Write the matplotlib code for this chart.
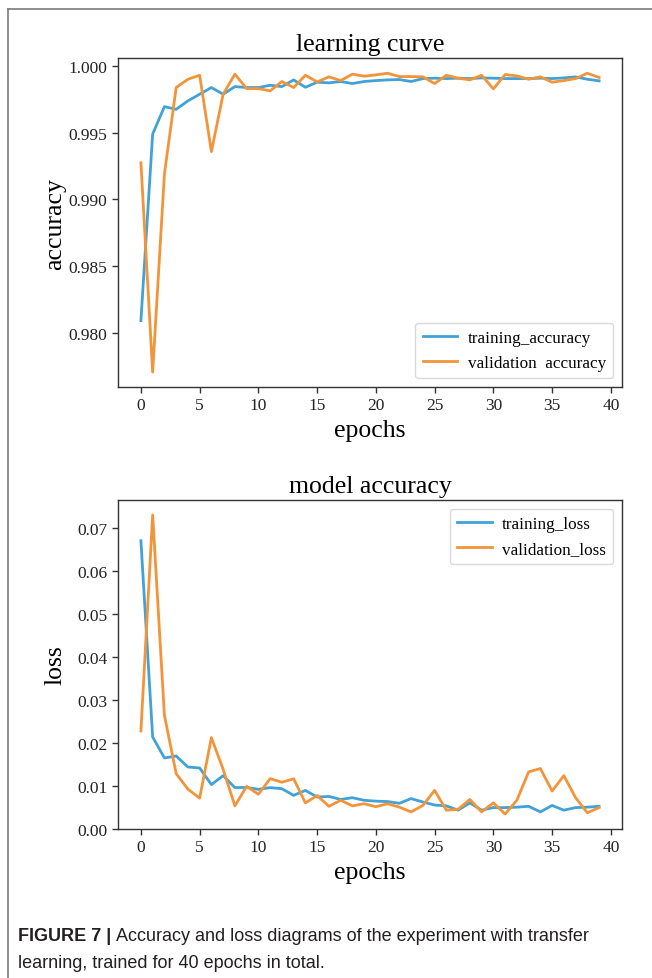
import matplotlib
matplotlib.use("Agg")
import matplotlib.pyplot as plt
from matplotlib.lines import Line2D
from matplotlib.transforms import offset_copy

epochs = list(range(40))

train_acc = [0.98093, 0.99490, 0.99695, 0.99675, 0.99738, 0.99788, 0.99838, 0.99788,
             0.99845, 0.99838, 0.99838, 0.99855, 0.99845, 0.99895, 0.99840, 0.99878,
             0.99873, 0.99883, 0.99868, 0.99883, 0.99890, 0.99895, 0.99898, 0.99883,
             0.99905, 0.99908, 0.99905, 0.99908, 0.99905, 0.99910, 0.99908, 0.99905,
             0.99905, 0.99905, 0.99908, 0.99905, 0.99910, 0.99918, 0.99900, 0.99888]
val_acc = [0.99275, 0.97708, 0.99190, 0.99838, 0.99900, 0.99930, 0.99358, 0.99788,
           0.99938, 0.99830, 0.99830, 0.99813, 0.99883, 0.99838, 0.99930, 0.99880,
           0.99918, 0.99890, 0.99938, 0.99923, 0.99933, 0.99945, 0.99920, 0.99920,
           0.99918, 0.99868, 0.99930, 0.99908, 0.99895, 0.99930, 0.99828, 0.99935,
           0.99925, 0.99900, 0.99918, 0.99878, 0.99890, 0.99905, 0.99945, 0.99913]

train_loss = [0.0670, 0.02134, 0.01645, 0.0169, 0.01435, 0.01412, 0.01025, 0.01234,
              0.00955, 0.0096, 0.00915, 0.00955, 0.0093, 0.00775, 0.0089, 0.00736,
              0.0075, 0.0068, 0.0072, 0.0066, 0.0064, 0.0063, 0.0059, 0.0070,
              0.0062, 0.0055, 0.0053, 0.0043, 0.0060, 0.0043, 0.0049, 0.0049,
              0.0050, 0.0052, 0.0039, 0.0054, 0.0043, 0.0049, 0.0050, 0.0052]
val_loss = [0.02274, 0.0730, 0.0264, 0.0128, 0.0092, 0.0071, 0.0212, 0.0138,
            0.0053, 0.00985, 0.0080, 0.01164, 0.0108, 0.0116, 0.0060, 0.0077,
            0.0052, 0.0066, 0.0053, 0.0058, 0.0051, 0.0058, 0.0050, 0.0039,
            0.0054, 0.0089, 0.0043, 0.0045, 0.0068, 0.0039, 0.0060, 0.0034,
            0.0066, 0.0132, 0.0140, 0.00876, 0.01234, 0.0072, 0.0037, 0.0049]

xticks = [0, 5, 10, 15, 20, 25, 30, 35, 40]
acc_ticks = [0.980, 0.985, 0.990, 0.995, 1.000]
loss_ticks = [0.00, 0.01, 0.02, 0.03, 0.04, 0.05, 0.06, 0.07]

BLUE = "#40a2d8"
ORANGE = "#f39439"
SERIF = "Liberation Serif"

fig = plt.figure(figsize=(6.52, 9.79), dpi=100)
fig.patch.set_facecolor("white")

# frame (open on right and bottom)
fig.add_artist(Line2D([8/652, 8/652], [0, 1 - 10/979], color="#7a7a7a", lw=1.2,
                      transform=fig.transFigure))
fig.add_artist(Line2D([8/652, 1], [1 - 10/979, 1 - 10/979], color="#7a7a7a", lw=1.2,
                      transform=fig.transFigure))

def style(ax):
    for s in ax.spines.values():
        s.set_color("#333333")
        s.set_linewidth(1.0)
    ax.tick_params(direction="out", length=4, width=1, colors="#333333",
                   labelsize=12.5, labelcolor="#222222")
    for lab in ax.get_xticklabels() + ax.get_yticklabels():
        lab.set_fontfamily(SERIF)

leg_kw = dict(prop={"family": SERIF, "size": 12.3}, frameon=True, fancybox=True,
              framealpha=0.8, edgecolor="#d0d0d0", handlelength=2.0,
              handletextpad=0.6, borderpad=0.45)

ax1 = fig.add_axes([118/652, 1 - 388/979, (622 - 118)/652, (388 - 59.3)/979])
ax1.plot(epochs, train_acc, color=BLUE, lw=2, label="training_accuracy")
ax1.plot(epochs, val_acc, color=ORANGE, lw=2, label="validation  accuracy")
ax1.set_xticks(xticks)
ax1.set_yticks(acc_ticks)
ax1.set_yticklabels([f"{t:.3f}" for t in acc_ticks])
ax1.set_xlim(-1.95, 40.95)
ax1.set_title("learning curve", fontfamily=SERIF, fontsize=18.5, pad=6)
ax1.set_xlabel("epochs", fontfamily=SERIF, fontsize=18.5, labelpad=4)
ax1.set_ylabel("accuracy", fontfamily=SERIF, fontsize=18.5, labelpad=2)
style(ax1)
ax1.legend(loc="lower right", **leg_kw)

ax2 = fig.add_axes([118/652, 1 - 830/979, (622 - 118)/652, (830 - 501)/979])
ax2.plot(epochs, train_loss, color=BLUE, lw=2, label="training_loss")
ax2.plot(epochs, val_loss, color=ORANGE, lw=2, label="validation_loss")
ax2.set_xticks(xticks)
ax2.set_yticks(loss_ticks)
ax2.set_yticklabels([f"{t:.2f}" for t in loss_ticks])
ax2.set_xlim(-1.95, 40.95)
ax2.set_title("model accuracy", fontfamily=SERIF, fontsize=18.5, pad=6)
ax2.set_xlabel("epochs", fontfamily=SERIF, fontsize=18.5, labelpad=4)
ax2.set_ylabel("loss", fontfamily=SERIF, fontsize=18.5, labelpad=8)
style(ax2)
ax2.legend(loc="upper right", **leg_kw)

# caption
CAP = dict(fontfamily="Liberation Sans", fontsize=13, color="#231f20",
           va="baseline", ha="left")
t1 = fig.text(18/652, 1 - 941/979, "FIGURE 7 |", fontweight="bold", **CAP)
fig.canvas.draw()
bb = t1.get_window_extent()
x2 = (bb.x1 + 5) / fig.bbox.width
fig.text(x2, 1 - 941/979,
         "Accuracy and loss diagrams of the experiment with transfer", **CAP)
fig.text(18/652, 1 - 968/979, "learning, trained for 40 epochs in total.", **CAP)

fig.savefig("out.png", dpi=100, facecolor="white")
